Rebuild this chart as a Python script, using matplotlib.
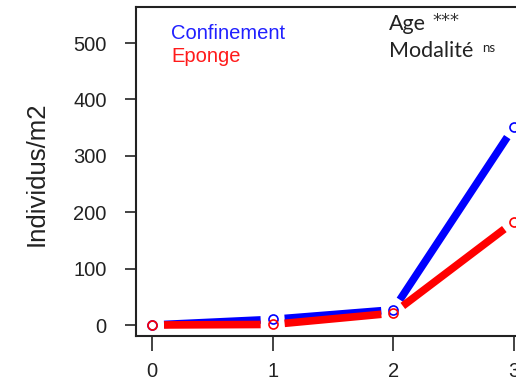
import numpy as np
import matplotlib.pyplot as plt

# donnees
age = [0, 1, 2, 3]
confinement = [0, 10, 27, 351]
eponge = [0, 1, 21, 183]
yticks = [0, 100, 200, 300, 400, 500]

plt.rcParams["font.family"] = ["Liberation Sans", "DejaVu Sans"]

fig = plt.figure(figsize=(5.16, 3.81), dpi=100)
ax = fig.add_axes([136 / 516, 45 / 381, 402 / 516, 329 / 381])
ax.set_xlim(-0.133, 3.2)
ax.set_ylim(-19.5, 564)


def type_b(x, y, col, gap=12):
    # lignes type "b" de R : segments coupes autour des points
    pts = ax.transData.transform(np.column_stack([x, y]))
    inv = ax.transData.inverted()
    for i in range(len(pts) - 1):
        p0, p1 = pts[i], pts[i + 1]
        d = p1 - p0
        n = np.hypot(*d)
        if n <= 2 * gap:
            continue
        u = d / n
        seg = inv.transform(np.array([p0 + u * gap, p1 - u * gap]))
        ax.plot(seg[:, 0], seg[:, 1], color=col, lw=5.5, solid_capstyle="butt",
                clip_on=False)
    ax.plot(x, y, "o", mfc="none", mec=col, ms=6.5, mew=1.2, clip_on=False)


type_b(age, confinement, "#0000ff")
type_b(age, eponge, "#ff0000")

ax.set_xticks(age)
ax.set_yticks(yticks)
ax.tick_params(axis="y", length=8, width=1.2, pad=13, labelsize=14.5, colors="#222222")
ax.tick_params(axis="x", length=11, width=1.2, pad=8, labelsize=14.5, colors="#222222")
for s in ax.spines.values():
    s.set_linewidth(1.5)
    s.set_color("#222222")

fig.text(37 / 516, 1 - 174 / 381, "Individus/m2", rotation=90, ha="center", va="center",
         fontsize=18.5, color="#222222")

fig.text(171 / 516, 1 - 39 / 381, "Confinement", color="#2020ff", fontsize=14.5)
fig.text(171 / 516, 1 - 62 / 381, "Eponge", color="#ff1a1a", fontsize=14.5)

fig.text(389 / 516, 1 - 30 / 381, "Age", fontsize=15.5, family="Lato", color="#222222")
fig.text(432 / 516, 1 - 12 / 381, "***", fontsize=13, family="DejaVu Sans", va="top",
         color="#333333")
fig.text(389 / 516, 1 - 57 / 381, "Modalité", fontsize=15.5, family="Lato", color="#222222")
fig.text(482 / 516, 1 - 42 / 381, "ns", fontsize=9.5, family="Lato", va="top", color="#222222")

fig.savefig("out.png", dpi=100)
